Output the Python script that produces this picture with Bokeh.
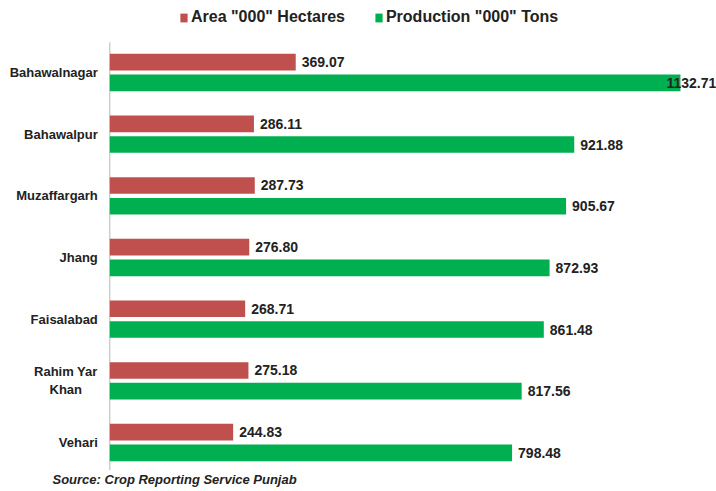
from bokeh.plotting import figure
from bokeh.models import ColumnDataSource, Range1d, Legend, LegendItem, Label
from bokeh.core.properties import value
from bokeh.transform import dodge
from bokeh.embed import file_html
from bokeh.resources import INLINE

districts = ["Bahawalnagar", "Bahawalpur", "Muzaffargarh", "Jhang",
             "Faisalabad", "Rahim Yar\nKhan", "Vehari"]
area = [369.07, 286.11, 287.73, 276.80, 268.71, 275.18, 244.83]
production = [1132.71, 921.88, 905.67, 872.93, 861.48, 817.56, 798.48]
series_names = ['Area "000" Hectares', 'Production "000" Tons']
source_note = "Source: Crop Reporting Service Punjab"

RED = "#C0504D"
GREEN = "#00B050"
TXT = "#222222"
FONT = value("Liberation Sans")

W, H = 716, 491
AXIS_X = 109.3          # px of the value-axis origin
FRAME_TOP, FRAME_BOT = 41.2, 472.8
px_per_unit = 0.5038
n = len(districts)
slot = (FRAME_BOT - FRAME_TOP) / n

x_start = -AXIS_X / px_per_unit
x_end = (W - AXIS_X) / px_per_unit
y_top = -0.5 - FRAME_TOP / slot
y_bot = (n - 0.5) + (H - FRAME_BOT) / slot

def offsets(vals):
    room = (W - AXIS_X)
    return [6 if v * px_per_unit + 6 + 50 <= room else -14 for v in vals]

idx = list(range(n))
single = [d if "\n" not in d else "" for d in districts]
multi = [d if "\n" in d else "" for d in districts]

src = ColumnDataSource(dict(
    i=idx, d=districts, single=single, multi=multi,
    area=area, prod=production,
    area_lbl=[f"{v:.2f}" for v in area],
    prod_lbl=[f"{v:.2f}" for v in production],
    area_off=offsets(area), prod_off=offsets(production),
))

p = figure(width=W, height=H, output_backend="svg", toolbar_location=None,
           x_range=Range1d(x_start, x_end), y_range=Range1d(y_bot, y_top),
           x_axis_location=None, y_axis_location=None,
           min_border=0, min_border_left=0, min_border_right=0,
           min_border_top=0, min_border_bottom=0)
p.outline_line_color = None
p.xgrid.visible = False
p.ygrid.visible = False
p.background_fill_color = "white"

OFF = 0.168
BH = 0.27

# category axis line
p.segment(x0=0, x1=0, y0=-0.49, y1=n - 0.55, line_color="#b8b8b8", line_width=1)

r_area = p.hbar(y=dodge("i", -OFF), right="area", left=0, height=BH,
                color=RED, line_color=None, source=src)
r_prod = p.hbar(y=dodge("i", OFF), right="prod", left=0, height=BH,
                color=GREEN, line_color=None, source=src)

p.text(x="area", y=dodge("i", -OFF), text="area_lbl", x_offset="area_off",
       text_baseline="middle", text_align="left", text_font_size="14px",
       text_font_style="bold", text_color=TXT, text_font=FONT, source=src)
p.text(x="prod", y=dodge("i", OFF), text="prod_lbl", x_offset="prod_off",
       text_baseline="middle", text_align="left", text_font_size="14px",
       text_font_style="bold", text_color=TXT, text_font=FONT, source=src)

# category labels
p.text(x=0, y="i", text="single", x_offset=-12, text_baseline="middle",
       text_align="right", text_font_size="13px", text_font_style="bold",
       text_color=TXT, text_font=FONT, source=src)
p.text(x=0, y="i", text="multi", x_offset=-44, text_baseline="middle",
       text_align="center", text_font_size="13px", text_font_style="bold",
       text_color=TXT, text_font=FONT, text_line_height=1.2, source=src)

legend = Legend(items=[LegendItem(label=series_names[0], renderers=[r_area]),
                       LegendItem(label=series_names[1], renderers=[r_prod])],
                orientation="horizontal", location=(179, H - 26),
                glyph_width=9, glyph_height=11, label_standoff=3, spacing=29,
                padding=0, margin=0, border_line_color=None, background_fill_alpha=0,
                label_text_font="Liberation Sans", label_text_font_style="bold",
                label_text_font_size="16px", label_text_color=TXT, label_height=16)
p.add_layout(legend, "center")

note = Label(x=52, y=H - 479, x_units="screen", y_units="screen", text=source_note,
             text_font="Liberation Sans", text_font_style="bold italic",
             text_font_size="13px", text_color=TXT, text_baseline="middle")
p.add_layout(note)

open("out.html", "w").write(file_html(p, INLINE))
